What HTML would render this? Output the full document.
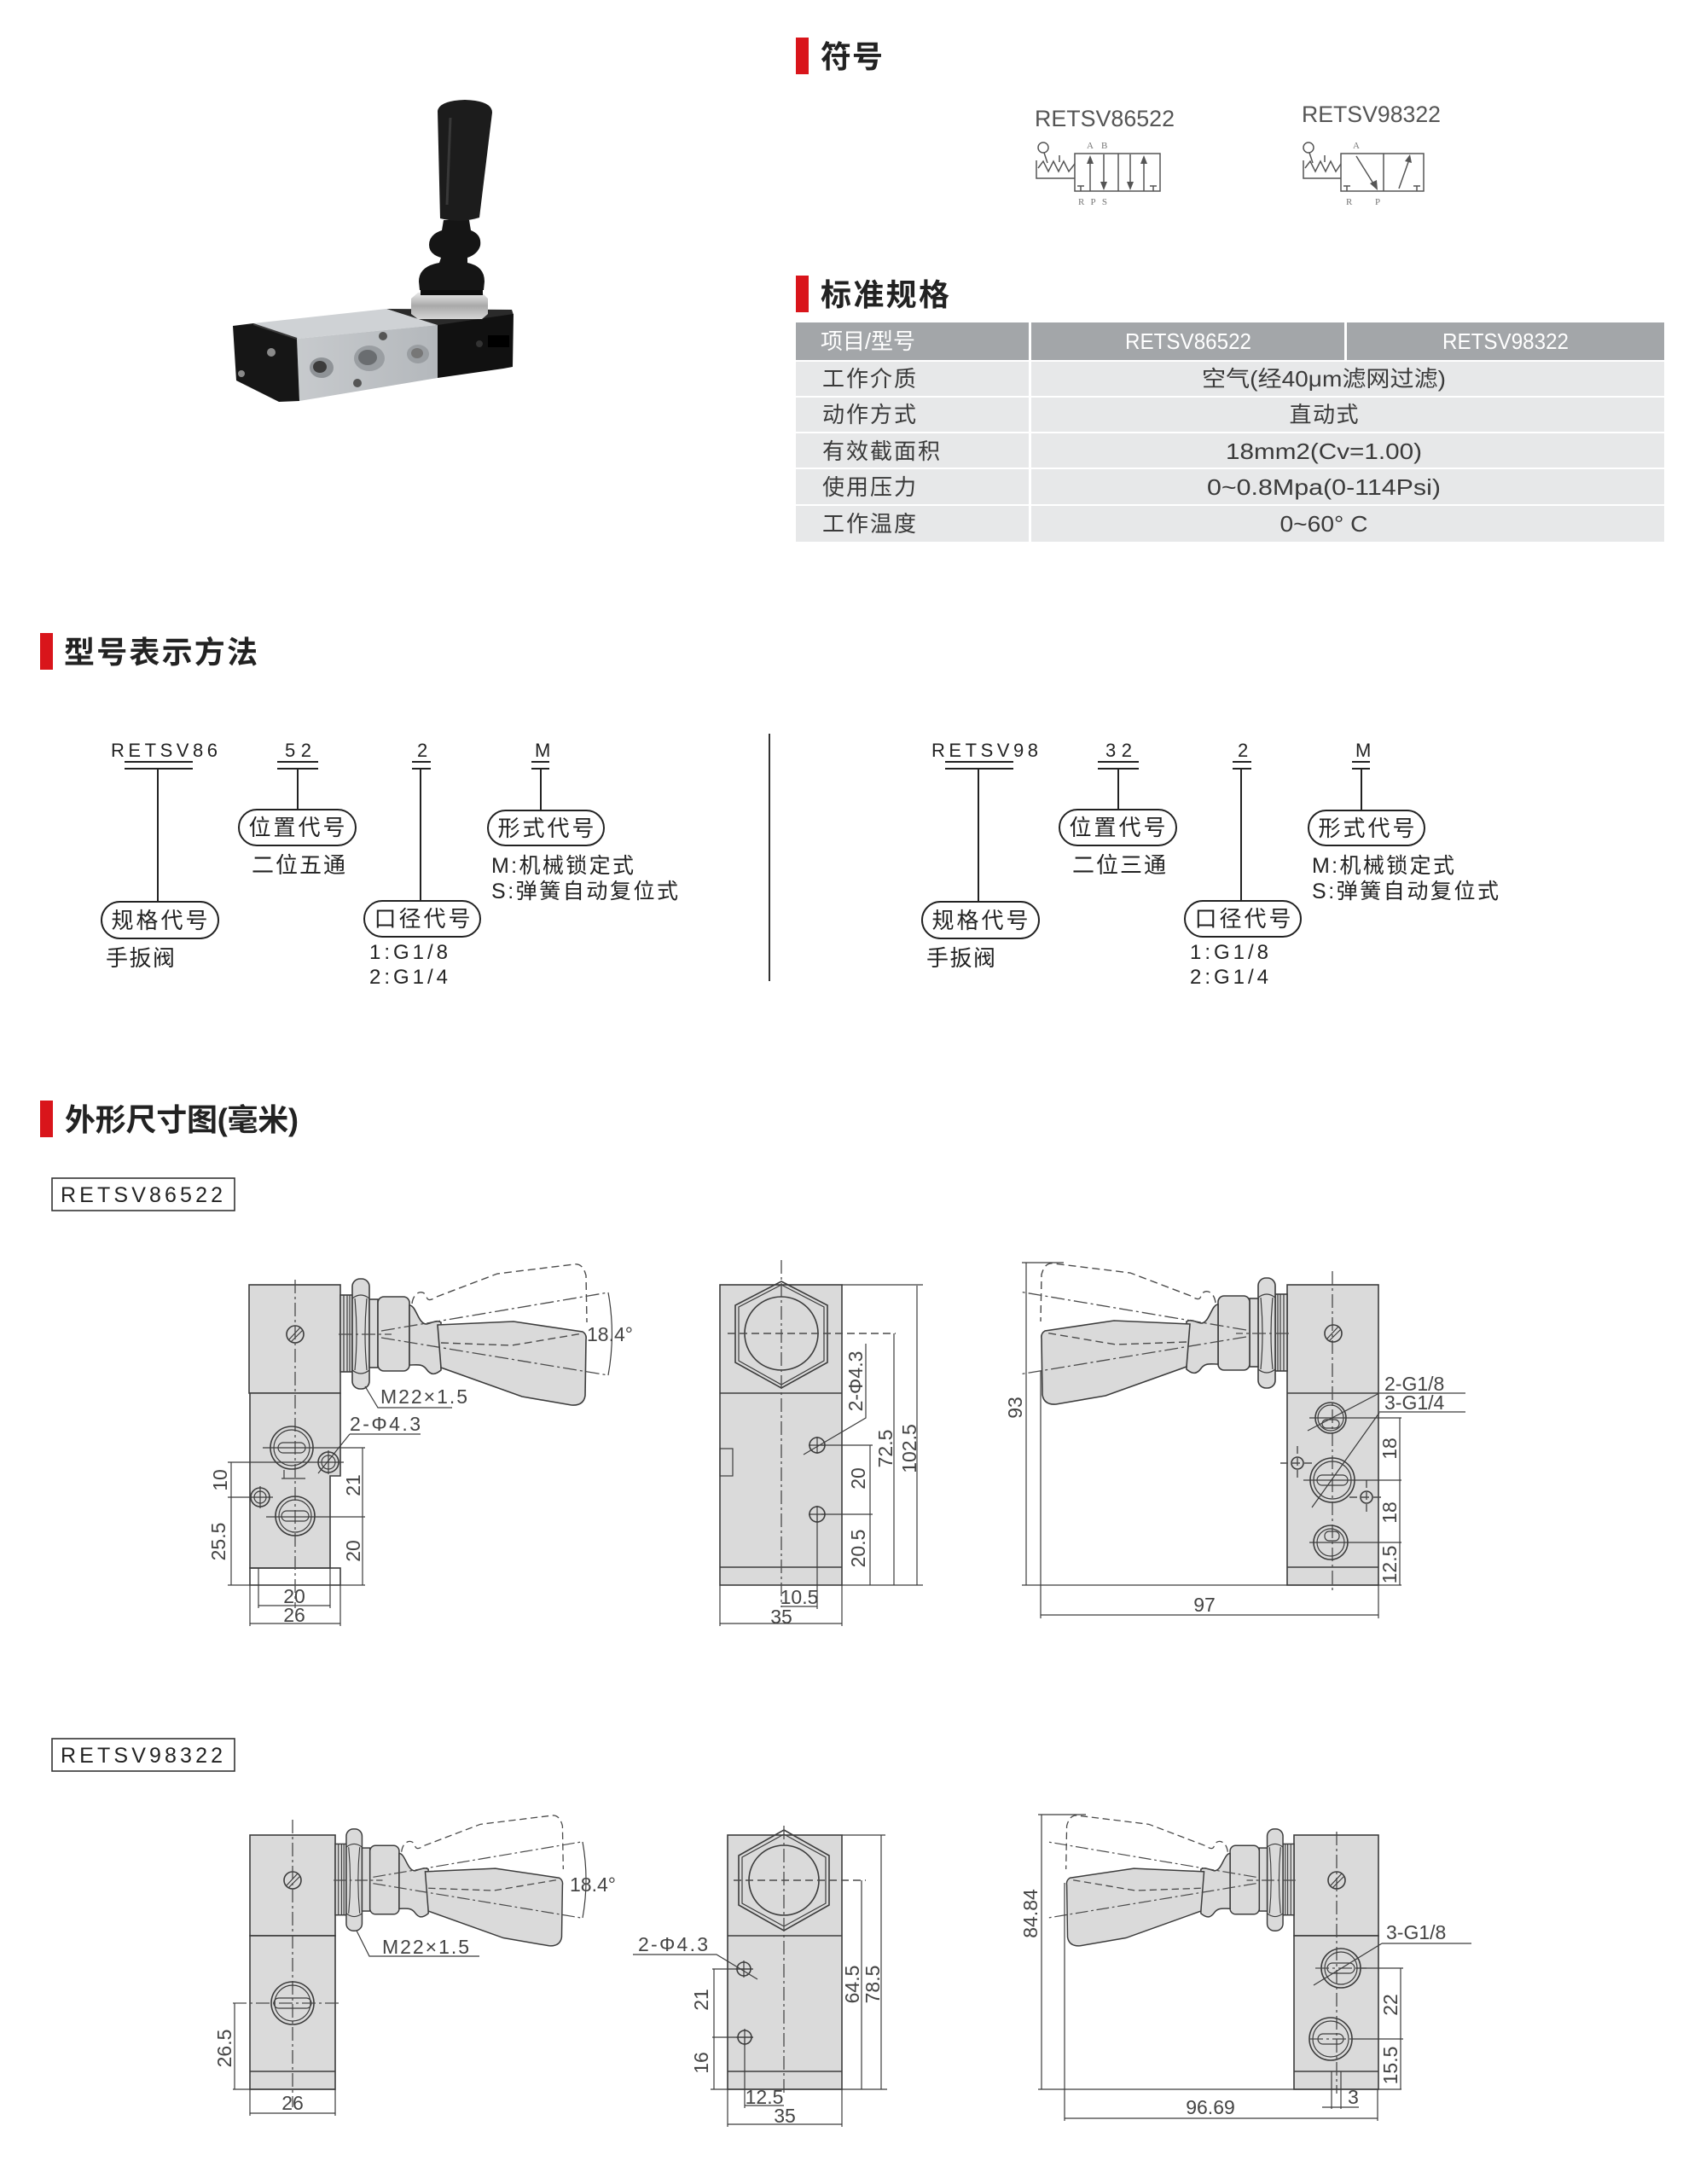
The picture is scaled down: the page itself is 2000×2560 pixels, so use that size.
<!DOCTYPE html>
<html><head><meta charset="utf-8">
<style>
html,body{margin:0;padding:0;background:#fff;}
svg{display:block}
.cn{font-family:"Liberation Sans","Noto Sans CJK SC",sans-serif;}
.ln{stroke:#3c3c3c;stroke-width:1.6;fill:none}
.th{stroke:#3c3c3c;stroke-width:1.2;fill:none}
.dd{stroke:#4a4a4a;stroke-width:1.3;fill:none;stroke-dasharray:16 4 3 4}
.ds{stroke:#4a4a4a;stroke-width:1.4;fill:none;stroke-dasharray:9 5}
.bd{fill:#dadada;stroke:#3c3c3c;stroke-width:1.6}
.t{font-family:"Liberation Sans",sans-serif;font-size:23px;fill:#444}
.sy{stroke:#555;stroke-width:1.5;fill:none}
.sl{font-family:"Liberation Serif",serif;font-size:11px;fill:#777}
</style></head><body>
<svg width="2000" height="2560" viewBox="0 0 2000 2560" xmlns="http://www.w3.org/2000/svg">
<defs>
<linearGradient id="silver" x1="0" y1="0" x2="0" y2="1"><stop offset="0" stop-color="#e8e8e8"/><stop offset="0.5" stop-color="#a9a9a9"/><stop offset="1" stop-color="#d5d5d5"/></linearGradient>
<linearGradient id="alu" x1="0" y1="0" x2="1" y2="0"><stop offset="0" stop-color="#c7cacd"/><stop offset="1" stop-color="#b4b8bc"/></linearGradient>
<g id="asm">
 <rect x="0" y="-46" width="14" height="90" class="bd"/>
 <path d="M4,-46V44M8,-46V44M11,-46V44" class="th"/>
 <rect x="14" y="-65" width="20" height="129" rx="9" class="bd"/>
 <path d="M14,-42 Q24,-50 34,-42 M14,42 Q24,50 34,42 M17,-42 Q21,0 17,42 M31,-42 Q27,0 31,42" class="th"/>
 <rect x="34" y="-41" width="10" height="80" class="bd"/>
 <rect x="44" y="-44" width="37" height="87" rx="7" class="bd"/>
 <path d="M81,-34 C89,-34 91,-12 101,-12 C109,-14 113,-17 118,-14 L118,42 C111,48 106,48 101,41 C96,34 89,36 81,36 Z" class="bd"/>
 <path d="M114,-11 L203,-15 L284,-3 Q289,0 288,6 L287,72 Q285,84 271,83 L213,73 L118,39 Z" class="bd"/>
 <path d="M84,-36 C86,-52 99,-52 101,-44 C103,-37 109,-42 113,-44 L184,-71 L274,-82 Q284,-84 288,-69 L289,-14" class="ds"/>
 <path d="M-2,0 H60 M48,-4 L314,-49 M48,4 L314,48" class="dd"/>
 <path d="M118,10 L201,13 L284,-1" class="ds"/>
</g>
</defs>

<!-- ============ PRODUCT PHOTO ============ -->
<g>
 <polygon points="453,362 600,363 602,369 513,382" fill="#2a2a2a"/>
 <polygon points="513,381 602,368 601,430 590,432 513,443" fill="#111"/>
 <polygon points="297,379 453,362 513,381 348,397" fill="#cfd2d5"/>
 <polygon points="348,397 513,381 513,443 351,470" fill="url(#alu)"/>
 <polygon points="273,382 297,379 348,397 351,470 327,471 277,446" fill="#161616"/>
 <path d="M297,380 L348,397" stroke="#3a3a3a" stroke-width="2"/>
 <ellipse cx="377" cy="431" rx="14" ry="12" fill="#8f9397"/><ellipse cx="375" cy="430" rx="8" ry="7" fill="#3c3c3c"/>
 <ellipse cx="433" cy="420" rx="18" ry="15" fill="#9a9ea2"/><ellipse cx="431" cy="419" rx="11" ry="9" fill="#6a6d70"/>
 <ellipse cx="490" cy="415" rx="13" ry="11" fill="#9a9ea2"/><ellipse cx="489" cy="414" rx="7" ry="6" fill="#777"/>
 <circle cx="449" cy="394" r="5" fill="#555"/><circle cx="419" cy="449" r="5" fill="#555"/>
 <circle cx="318" cy="413" r="5" fill="#8a8a8a"/><circle cx="283" cy="438" r="4" fill="#8a8a8a"/>
 <rect x="572" y="393" width="25" height="14" fill="#000"/><circle cx="562" cy="403" r="4" fill="#333"/>
 <path d="M482,350 L490,343 L565,343 L572,350 L572,368 L565,374 L490,374 L482,368 Z" fill="url(#silver)"/>
 <rect x="493" y="332" width="73" height="14" fill="#0d0d0d"/>
 <path d="M520,258 L550,258 L552,270 Q565,275 563,288 Q560,298 548,302 L548,308 Q568,312 568,330 L567,340 L492,340 L491,330 Q491,312 515,308 L517,302 Q503,298 503,287 Q503,275 518,270 Z" fill="#151515"/>
 <path d="M513,130 Q515,118 545,117 Q577,118 577,132 L562,255 Q540,262 516,256 Z" fill="#1c1c1c"/>
 <path d="M528,138 L524,240" stroke="#555" stroke-width="3" opacity="0.5"/>
</g>

<!-- ============ HEADINGS ============ -->
<rect x="933" y="44" width="15" height="43" fill="#d9151b"/>
<text x="962" y="79" class="cn" font-size="36" font-weight="bold" fill="#222" textLength="73">符号</text>
<rect x="933" y="323" width="15" height="43" fill="#d9151b"/>
<text x="962" y="358" class="cn" font-size="36" font-weight="bold" fill="#222" textLength="151">标准规格</text>
<rect x="47" y="742" width="15" height="43" fill="#d9151b"/>
<text x="75" y="777" class="cn" font-size="36" font-weight="bold" fill="#222" textLength="227">型号表示方法</text>
<rect x="47" y="1290" width="15" height="43" fill="#d9151b"/>
<text x="76" y="1325" class="cn" font-size="36" font-weight="bold" fill="#222" textLength="274">外形尺寸图(毫米)</text>

<!-- ============ SYMBOLS ============ -->
<g transform="translate(-5,-3)">
<text x="1218" y="151" class="cn" font-size="27" fill="#555" textLength="164" lengthAdjust="spacingAndGlyphs">RETSV86522</text>
<text x="1531" y="146" class="cn" font-size="27" fill="#555" textLength="163" lengthAdjust="spacingAndGlyphs">RETSV98322</text>
<g>
 <rect x="1265" y="183" width="100" height="44" class="sy"/>
 <path d="M1316,183 V227" class="sy"/>
 <path d="M1283,227 V192 M1299,184 V218 M1330,184 V218 M1346,227 V192" class="sy"/>
 <polygon points="1279,195 1287,195 1283,185" fill="#555"/>
 <polygon points="1295,216 1303,216 1299,226" fill="#555"/>
 <polygon points="1326,216 1334,216 1330,226" fill="#555"/>
 <polygon points="1342,195 1350,195 1346,185" fill="#555"/>
 <path d="M1268,221 H1276 M1272,221 V227 M1353,221 H1361 M1357,221 V227" class="sy"/>
 <circle cx="1228" cy="176" r="6" class="sy"/>
 <path d="M1229,182 L1233,194 M1220,191 V212 H1265 M1222,200 L1228,192 L1234,204 L1240,192 L1246,204 L1252,192 L1258,204 L1265,195 M1247,185 V193" class="sy"/>
 <text x="1279" y="177" class="sl">A</text><text x="1296" y="177" class="sl">B</text>
 <text x="1269" y="243" class="sl" textLength="34">RPS</text>
</g>
<g>
 <rect x="1577" y="183" width="97" height="44" class="sy"/>
 <path d="M1627,183 V227" class="sy"/>
 <path d="M1595,186 L1615,218 M1645,224 L1656,193" class="sy"/>
 <polygon points="1611,218 1619,214 1620,226" fill="#555"/>
 <polygon points="1652,192 1660,194 1658,184" fill="#555"/>
 <path d="M1580,221 H1588 M1584,221 V227 M1662,221 H1670 M1666,221 V227" class="sy"/>
 <circle cx="1539" cy="176" r="6" class="sy"/>
 <path d="M1540,182 L1544,194 M1533,191 V212 H1577 M1535,200 L1541,192 L1547,204 L1553,192 L1559,204 L1565,192 L1571,204 L1577,195 M1558,185 V193" class="sy"/>
 <text x="1591" y="177" class="sl">A</text>
 <text x="1583" y="243" class="sl">R</text><text x="1617" y="243" class="sl">P</text>
</g>
</g>

<!-- ============ TABLE ============ -->
<g class="cn">
 <rect x="933" y="378" width="1018" height="44" fill="#a3a6a9"/>
 <rect x="933" y="424" width="1018" height="40" fill="#e7e8e9"/>
 <rect x="933" y="466" width="1018" height="40" fill="#e7e8e9"/>
 <rect x="933" y="508" width="1018" height="40" fill="#e7e8e9"/>
 <rect x="933" y="550" width="1018" height="41" fill="#e7e8e9"/>
 <rect x="933" y="593" width="1018" height="42" fill="#e7e8e9"/>
 <rect x="1206" y="378" width="3" height="257" fill="#fff"/>
 <rect x="1576" y="378" width="3" height="44" fill="#fff"/>
 <text x="962" y="409" font-size="26" fill="#fff" textLength="111">项目/型号</text>
 <text x="1393" y="409" font-size="26" fill="#fff" text-anchor="middle" textLength="148" lengthAdjust="spacingAndGlyphs">RETSV86522</text>
 <text x="1765" y="409" font-size="26" fill="#fff" text-anchor="middle" textLength="148" lengthAdjust="spacingAndGlyphs">RETSV98322</text>
 <g font-size="26" fill="#3a3a3a">
  <text x="964" y="453" textLength="110">工作介质</text>
  <text x="964" y="495" textLength="110">动作方式</text>
  <text x="964" y="538" textLength="138">有效截面积</text>
  <text x="964" y="580" textLength="110">使用压力</text>
  <text x="964" y="623" textLength="110">工作温度</text>
  <text x="1552" y="453" text-anchor="middle" textLength="286" lengthAdjust="spacingAndGlyphs">空气(经40μm滤网过滤)</text>
  <text x="1552" y="495" text-anchor="middle" textLength="81">直动式</text>
  <text x="1552" y="538" text-anchor="middle" textLength="230" lengthAdjust="spacingAndGlyphs">18mm2(Cv=1.00)</text>
  <text x="1552" y="580" text-anchor="middle" textLength="274" lengthAdjust="spacingAndGlyphs">0~0.8Mpa(0-114Psi)</text>
  <text x="1552" y="623" text-anchor="middle" textLength="103" lengthAdjust="spacingAndGlyphs">0~60° C</text>
 </g>
</g>

<!-- ============ MODEL DESIGNATION ============ -->
<g class="cn" fill="#222">
 <path d="M146,893 H226 M146,901 H226 M185,901 V1057 M325,893 H373 M325,901 H373 M349,901 V949 M483,893 H505 M483,901 H505 M493,901 V1056 M623,893 H644 M623,901 H644 M634,901 V950" stroke="#222" stroke-width="2" fill="none"/>
 <rect x="119" y="1057" width="137" height="43" rx="21.5" fill="none" stroke="#222" stroke-width="2"/>
 <rect x="280" y="949" width="137" height="42" rx="21" fill="none" stroke="#222" stroke-width="2"/>
 <rect x="427" y="1056" width="136" height="42" rx="21" fill="none" stroke="#222" stroke-width="2"/>
 <rect x="572" y="950" width="136" height="41" rx="20.5" fill="none" stroke="#222" stroke-width="2"/>
 <text x="130" y="887" font-size="22" textLength="125">RETSV86</text>
 <text x="334" y="887" font-size="22" textLength="31">52</text>
 <text x="489" y="887" font-size="22">2</text>
 <text x="627" y="887" font-size="22">M</text>
 <text x="187" y="1088" font-size="26" text-anchor="middle" textLength="113">规格代号</text>
 <text x="124" y="1132" font-size="26" textLength="81">手扳阀</text>
 <text x="348" y="979" font-size="26" text-anchor="middle" textLength="113">位置代号</text>
 <text x="295" y="1023" font-size="26" textLength="110">二位五通</text>
 <text x="495" y="1086" font-size="26" text-anchor="middle" textLength="113">口径代号</text>
 <text x="433" y="1124" font-size="24" textLength="92">1:G1/8</text>
 <text x="433" y="1153" font-size="24" textLength="92">2:G1/4</text>
 <text x="640" y="980" font-size="26" text-anchor="middle" textLength="113">形式代号</text>
 <text x="576" y="1023" font-size="25" textLength="167">M:机械锁定式</text>
 <text x="576" y="1053" font-size="25" textLength="219">S:弹簧自动复位式</text>
</g>
<path d="M902,860 V1150" stroke="#333" stroke-width="2"/>
<g class="cn" fill="#222" transform="translate(962,0)">
 <path d="M146,893 H226 M146,901 H226 M185,901 V1057 M325,893 H373 M325,901 H373 M349,901 V949 M483,893 H505 M483,901 H505 M493,901 V1056 M623,893 H644 M623,901 H644 M634,901 V950" stroke="#222" stroke-width="2" fill="none"/>
 <rect x="119" y="1057" width="137" height="43" rx="21.5" fill="none" stroke="#222" stroke-width="2"/>
 <rect x="280" y="949" width="137" height="42" rx="21" fill="none" stroke="#222" stroke-width="2"/>
 <rect x="427" y="1056" width="136" height="42" rx="21" fill="none" stroke="#222" stroke-width="2"/>
 <rect x="572" y="950" width="136" height="41" rx="20.5" fill="none" stroke="#222" stroke-width="2"/>
 <text x="130" y="887" font-size="22" textLength="125">RETSV98</text>
 <text x="334" y="887" font-size="22" textLength="31">32</text>
 <text x="489" y="887" font-size="22">2</text>
 <text x="627" y="887" font-size="22">M</text>
 <text x="187" y="1088" font-size="26" text-anchor="middle" textLength="113">规格代号</text>
 <text x="124" y="1132" font-size="26" textLength="81">手扳阀</text>
 <text x="348" y="979" font-size="26" text-anchor="middle" textLength="113">位置代号</text>
 <text x="295" y="1023" font-size="26" textLength="110">二位三通</text>
 <text x="495" y="1086" font-size="26" text-anchor="middle" textLength="113">口径代号</text>
 <text x="433" y="1124" font-size="24" textLength="92">1:G1/8</text>
 <text x="433" y="1153" font-size="24" textLength="92">2:G1/4</text>
 <text x="640" y="980" font-size="26" text-anchor="middle" textLength="113">形式代号</text>
 <text x="576" y="1023" font-size="25" textLength="167">M:机械锁定式</text>
 <text x="576" y="1053" font-size="25" textLength="219">S:弹簧自动复位式</text>
</g>

<!-- ============ LABEL BOXES ============ -->
<rect x="61" y="1381" width="214" height="38" fill="none" stroke="#333" stroke-width="1.6"/>
<text x="71" y="1409" class="cn" font-size="25" fill="#222" textLength="190">RETSV86522</text>
<rect x="61" y="2038" width="214" height="38" fill="none" stroke="#333" stroke-width="1.6"/>
<text x="71" y="2066" class="cn" font-size="25" fill="#222" textLength="190">RETSV98322</text>

<!-- ============ ROW 1 LEFT ============ -->
<g>
 <rect x="292" y="1506" width="107" height="127" class="bd"/>
 <path d="M293,1633 H399 V1730 H387 V1838 H293 Z" class="bd"/>
 <rect x="293" y="1838" width="106" height="20" class="ln"/>
 <use href="#asm" transform="translate(399,1564)"/>
 <path d="M713,1515 A270,270 0 0,1 713,1612" class="th"/>
 <text x="688" y="1572" class="t">18.4°</text>
 <circle cx="346" cy="1564" r="10" class="ln"/><path d="M339,1570 L352,1556 M341,1573 L355,1559" class="th"/>
 <path d="M346,1500 V1885" class="dd"/>
 <circle cx="342" cy="1697" r="25" class="ln"/><circle cx="342" cy="1697" r="21" class="th"/>
 <rect x="326" y="1691" width="32" height="12" rx="6" class="th"/>
 <circle cx="346" cy="1777" r="23" class="ln"/><circle cx="346" cy="1777" r="19" class="th"/>
 <rect x="330" y="1771" width="32" height="12" rx="6" class="th"/>
 <circle cx="385" cy="1714" r="12" class="ln"/><circle cx="385" cy="1714" r="8" class="th"/>
 <path d="M385,1700 V1728" class="th"/>
 <circle cx="305" cy="1755" r="11" class="ln"/><circle cx="305" cy="1755" r="7" class="th"/>
 <path d="M305,1742 V1768 M330,1733 H358 M333,1723 V1733" class="th"/>
 <path d="M267,1714 H403 M267,1755 H320 M267,1858 H293 M271,1714 V1858" class="th"/>
 <path d="M308,1697 H428 M312,1778 H428 M425,1697 V1858 M399,1858 H428" class="th"/>
 <path d="M303,1838 V1885 M387,1838 V1885 M303,1882 H387 M293,1858 V1906 M399,1858 V1906 M293,1903 H399" class="th"/>
 <path d="M428,1625 L443,1650 H530" class="th"/>
 <text x="446" y="1645" class="t" textLength="102">M22×1.5</text>
 <path d="M410,1681 H493 M410,1681 L373,1727" class="th"/>
 <text x="410" y="1677" class="t" textLength="83">2-Φ4.3</text>
 <text class="t" text-anchor="middle" transform="translate(258,1735) rotate(-90)" dy="8">10</text>
 <text class="t" text-anchor="middle" transform="translate(256,1807) rotate(-90)" dy="8">25.5</text>
 <text class="t" text-anchor="middle" transform="translate(414,1741) rotate(-90)" dy="8">21</text>
 <text class="t" text-anchor="middle" transform="translate(414,1818) rotate(-90)" dy="8">20</text>
 <text x="345" y="1879" class="t" text-anchor="middle">20</text>
 <text x="345" y="1901" class="t" text-anchor="middle">26</text>
</g>

<!-- ============ ROW 1 MIDDLE ============ -->
<g>
 <rect x="844" y="1506" width="143" height="352" class="bd"/>
 <path d="M844,1633 H987 M844,1837 H987" class="ln"/>
 <polygon points="916,1502 970,1530 970,1597 916,1627 862,1597 862,1530" class="ln"/>
 <polygon points="916,1506 966,1532 966,1595 916,1623 866,1595 866,1532" class="th"/>
 <circle cx="916" cy="1563" r="43" class="ln"/>
 <path d="M916,1477 V1884" class="dd"/>
 <path d="M853,1563 H1050" class="ds"/>
 <rect x="844" y="1698" width="15" height="32" class="th"/>
 <circle cx="958" cy="1694" r="9" class="ln"/><path d="M948,1694 H968 M958,1684 V1704" class="th"/>
 <circle cx="958" cy="1775" r="9" class="ln"/><path d="M948,1775 H968 M958,1765 V1785" class="th"/>
 <path d="M1015,1575 V1662 L942,1705" class="th"/>
 <text class="t" text-anchor="middle" transform="translate(1003,1619) rotate(-90)" dy="8">2-Φ4.3</text>
 <path d="M963,1694 H1023 M963,1775 H1023 M1020,1694 V1858" class="th"/>
 <text class="t" text-anchor="middle" transform="translate(1006,1733) rotate(-90)" dy="8">20</text>
 <text class="t" text-anchor="middle" transform="translate(1006,1815) rotate(-90)" dy="8">20.5</text>
 <path d="M1048,1563 V1858" class="th"/>
 <text class="t" text-anchor="middle" transform="translate(1038,1698) rotate(-90)" dy="8">72.5</text>
 <path d="M1075,1507 V1858 M987,1506 H1082 M987,1858 H1082" class="th"/>
 <text class="t" text-anchor="middle" transform="translate(1066,1698) rotate(-90)" dy="8">102.5</text>
 <path d="M958,1775 V1886 M916,1883 H958 M844,1858 V1906 M987,1858 V1906 M844,1903 H987" class="th"/>
 <text x="937" y="1880" class="t" text-anchor="middle">10.5</text>
 <text x="916" y="1903" class="t" text-anchor="middle">35</text>
</g>

<!-- ============ ROW 1 RIGHT ============ -->
<g>
 <rect x="1509" y="1506" width="107" height="352" class="bd"/>
 <path d="M1509,1633 H1616 M1509,1837 H1616" class="ln"/>
 <use href="#asm" transform="translate(1509,1563) scale(-1,1)"/>
 <path d="M1562,1490 V1864" class="dd"/>
 <circle cx="1563" cy="1563" r="10" class="ln"/><path d="M1556,1569 L1569,1555 M1558,1572 L1572,1558" class="th"/>
 <circle cx="1560" cy="1662" r="18" class="ln"/><circle cx="1560" cy="1662" r="15" class="th"/>
 <rect x="1550" y="1664" width="20" height="10" rx="5" class="th"/>
 <circle cx="1562" cy="1735" r="26" class="ln"/><circle cx="1562" cy="1735" r="22" class="th"/>
 <rect x="1544" y="1729" width="36" height="12" rx="6" class="th"/>
 <circle cx="1560" cy="1808" r="20" class="ln"/><circle cx="1560" cy="1808" r="16" class="th"/>
 <rect x="1553" y="1795" width="17" height="11" rx="5" class="th"/>
 <circle cx="1521" cy="1715" r="7" class="ln"/><path d="M1501,1715 H1541 M1521,1695 V1735" class="ds"/>
 <circle cx="1602" cy="1755" r="7" class="ln"/><path d="M1582,1755 H1622 M1602,1735 V1775" class="ds"/>
 <path d="M1535,1662 H1643 M1528,1735 H1643 M1535,1808 H1643 M1641,1662 V1858" class="th"/>
 <text class="t" text-anchor="middle" transform="translate(1629,1698) rotate(-90)" dy="8">18</text>
 <text class="t" text-anchor="middle" transform="translate(1629,1773) rotate(-90)" dy="8">18</text>
 <text class="t" text-anchor="middle" transform="translate(1629,1834) rotate(-90)" dy="8">12.5</text>
 <path d="M1617,1633 H1718 M1617,1633 L1533,1677 M1617,1655 H1718 M1617,1656 L1538,1767" class="th"/>
 <text x="1623" y="1630" class="t">2-G1/8</text>
 <text x="1623" y="1652" class="t">3-G1/4</text>
 <path d="M1203,1480 V1858 M1198,1480 H1247 M1198,1858 H1643" class="th"/>
 <text class="t" text-anchor="middle" transform="translate(1190,1650) rotate(-90)" dy="8">93</text>
 <path d="M1220,1607 V1897 M1616,1858 V1897 M1220,1893 H1616" class="th"/>
 <text x="1412" y="1889" class="t" text-anchor="middle">97</text>
</g>

<!-- ============ ROW 2 LEFT ============ -->
<g>
 <rect x="293" y="2151" width="100" height="118" class="bd"/>
 <rect x="293" y="2269" width="100" height="180" class="bd"/>
 <path d="M293,2428 H393" class="ln"/>
 <use href="#asm" transform="translate(393,2204) scale(0.925)"/>
 <path d="M683,2159 A250,250 0 0,1 683,2248" class="th"/>
 <text x="668" y="2217" class="t">18.4°</text>
 <circle cx="343" cy="2204" r="10" class="ln"/><path d="M336,2210 L349,2196 M338,2213 L352,2199" class="th"/>
 <path d="M343,2133 V2470" class="dd"/>
 <circle cx="343" cy="2348" r="25" class="ln"/><circle cx="343" cy="2348" r="21" class="th"/>
 <rect x="321" y="2342" width="44" height="12" rx="6" class="th"/>
 <path d="M273,2348 H397" class="dd"/>
 <path d="M275,2348 V2449 M273,2449 H393" class="th"/>
 <text class="t" text-anchor="middle" transform="translate(263,2401) rotate(-90)" dy="8">26.5</text>
 <path d="M293,2449 V2480 M393,2449 V2480 M293,2477 H393" class="th"/>
 <text x="343" y="2473" class="t" text-anchor="middle">26</text>
 <path d="M418,2263 L433,2293 H562" class="th"/>
 <text x="448" y="2290" class="t" textLength="102">M22×1.5</text>
</g>

<!-- ============ ROW 2 MIDDLE ============ -->
<g>
 <rect x="853" y="2151" width="134" height="298" class="bd"/>
 <path d="M853,2269 H987 M853,2428 H987" class="ln"/>
 <polygon points="919,2145 972,2175 972,2233 919,2263 866,2233 866,2175" class="ln"/>
 <polygon points="919,2150 968,2177 968,2231 919,2258 870,2231 870,2177" class="th"/>
 <circle cx="919" cy="2204" r="41" class="ln"/>
 <path d="M919,2140 V2454" class="dd"/>
 <path d="M860,2204 H1015" class="ds"/>
 <circle cx="872" cy="2308" r="8" class="ln"/><path d="M862,2308 H882 M872,2298 V2318" class="th"/>
 <circle cx="873" cy="2388" r="8" class="ln"/><path d="M863,2388 H883 M873,2378 V2398" class="th"/>
 <path d="M742,2291 H840 L888,2320" class="th"/>
 <text x="748" y="2287" class="t" textLength="82">2-Φ4.3</text>
 <path d="M835,2308 H883 M835,2388 H883 M833,2449 H1040 M837,2308 V2449" class="th"/>
 <text class="t" text-anchor="middle" transform="translate(822,2344) rotate(-90)" dy="8">21</text>
 <text class="t" text-anchor="middle" transform="translate(822,2418) rotate(-90)" dy="8">16</text>
 <path d="M1010,2204 V2449 M987,2151 H1038 M1033,2151 V2449" class="th"/>
 <text class="t" text-anchor="middle" transform="translate(999,2326) rotate(-90)" dy="8">64.5</text>
 <text class="t" text-anchor="middle" transform="translate(1023,2326) rotate(-90)" dy="8">78.5</text>
 <path d="M873,2388 V2471 M873,2468 H919 M853,2449 V2493 M987,2449 V2493 M853,2490 H987" class="th"/>
 <text x="896" y="2466" class="t" text-anchor="middle">12.5</text>
 <text x="920" y="2488" class="t" text-anchor="middle">35</text>
</g>

<!-- ============ ROW 2 RIGHT ============ -->
<g>
 <rect x="1517" y="2151" width="99" height="118" class="bd"/>
 <rect x="1517" y="2269" width="99" height="180" class="bd"/>
 <path d="M1517,2428 H1616" class="ln"/>
 <use href="#asm" transform="translate(1517,2204) scale(-0.925,0.925)"/>
 <path d="M1567,2147 V2454" class="dd"/>
 <circle cx="1567" cy="2204" r="10" class="ln"/><path d="M1560,2210 L1573,2196 M1562,2213 L1576,2199" class="th"/>
 <circle cx="1572" cy="2307" r="23" class="ln"/><circle cx="1572" cy="2307" r="19" class="th"/>
 <rect x="1556" y="2301" width="32" height="12" rx="6" class="th"/>
 <circle cx="1560" cy="2390" r="25" class="ln"/><circle cx="1560" cy="2390" r="21" class="th"/>
 <rect x="1545" y="2384" width="30" height="12" rx="6" class="th"/>
 <path d="M1542,2307 H1602 M1535,2390 H1585" class="dd"/>
 <path d="M1590,2307 H1645 M1585,2390 H1645 M1642,2307 V2449" class="th"/>
 <text class="t" text-anchor="middle" transform="translate(1630,2350) rotate(-90)" dy="8">22</text>
 <text class="t" text-anchor="middle" transform="translate(1630,2421) rotate(-90)" dy="8">15.5</text>
 <path d="M1620,2278 H1725 M1620,2278 L1540,2327" class="th"/>
 <text x="1625" y="2273" class="t">3-G1/8</text>
 <path d="M1561,2428 V2472 M1572,2428 V2472 M1550,2470 H1593" class="th"/>
 <text x="1580" y="2466" class="t">3</text>
 <path d="M1221,2127 V2449 M1217,2127 H1273 M1217,2449 H1643" class="th"/>
 <text class="t" text-anchor="middle" transform="translate(1208,2243) rotate(-90)" dy="8">84.84</text>
 <path d="M1248,2207 V2486 M1615,2449 V2486 M1248,2483 H1615" class="th"/>
 <text x="1419" y="2478" class="t" text-anchor="middle">96.69</text>
</g>
</svg>
</body></html>
